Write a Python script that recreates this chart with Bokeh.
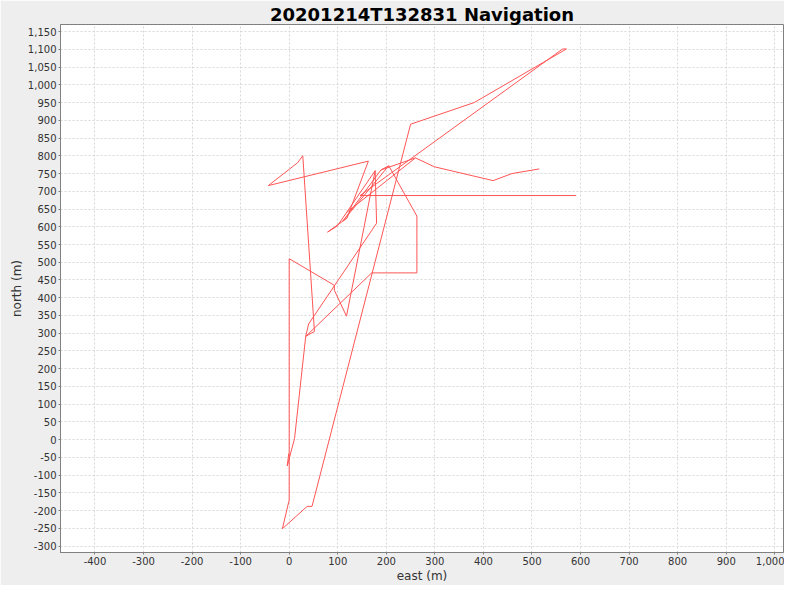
import math
from bokeh.plotting import figure
from bokeh.models import Range1d, FixedTicker, NumeralTickFormatter
from bokeh.embed import file_html
from bokeh.resources import INLINE

title_text = "20201214T132831 Navigation"
x_label = "east (m)"
y_label = "north (m)"
x_ticks = list(range(-400, 1001, 100))
y_ticks = list(range(-300, 1151, 50))

# main leg of the navigation track (east, north in metres)
main_east = [591, 146, 563, 571, 381, 250, 47, 37, -14, 0, 0, 93, 93, 118, 177, 180, 40, 34,
             170, 263, 263, 205, 189, 260, 299, 420, 459, 515]
main_north = [688, 688, 1101, 1101, 950, 889, -188, -188, -251, -170, 510, 435, 421, 348, 758, 610, 326, 291,
              470, 470, 630, 772, 760, 794, 769, 730, 750, 763]

# spike near the origin
spike_east = [-1, -4, 11, 34]
spike_north = [-39, -74, 3, 291]

# western zigzag
west_east = [34, 52, 28, 17, -43, 163, 119, 79, 99, 177]
west_north = [291, 305, 800, 780, 716, 785, 624, 585, 602, 758]

# fan legs
fan1_east = [189, 110, 205]
fan1_north = [760, 615, 772]
fan2_east = [260, 118]
fan2_north = [794, 640]

legs = [(main_east, main_north), (spike_east, spike_north), (west_east, west_north),
        (fan1_east, fan1_north), (fan2_east, fan2_north)]
xs, ys = [], []
for e, n in legs:
    xs += e + [math.nan]
    ys += n + [math.nan]

p = figure(frame_width=723, frame_height=528, x_range=Range1d(-471, 1018), y_range=Range1d(-318, 1170),
           output_backend="svg", toolbar_location=None,
           min_border_left=60, min_border_right=1, min_border_bottom=32, min_border_top=24,
           background_fill_color="white", border_fill_color="#eeeeee")

p.title.text = title_text
p.title.align = "center"
p.title.text_font = "DejaVu Sans"
p.title.text_font_size = "18px"
p.title.text_font_style = "bold"
p.title.text_color = "#000000"
p.title.standoff = 0

p.line(xs, ys, line_color="#ff5555", line_width=1)

for ax in (p.xaxis[0], p.yaxis[0]):
    ax.axis_line_color = "#808080"
    ax.major_tick_line_color = "#808080"
    ax.major_tick_out = 2
    ax.major_tick_in = 0
    ax.minor_tick_line_color = None
    ax.major_label_text_font = "DejaVu Sans"
    ax.major_label_text_font_size = "10px"
    ax.major_label_text_color = "#333333"
    ax.axis_label_text_font = "DejaVu Sans"
    ax.axis_label_text_font_size = "12px"
    ax.axis_label_text_font_style = "normal"
    ax.axis_label_text_color = "#333333"
    ax.formatter = NumeralTickFormatter(format="0,0")
    ax.major_label_standoff = 2
    ax.axis_label_standoff = 1

p.xaxis[0].ticker = FixedTicker(ticks=x_ticks)
p.yaxis[0].ticker = FixedTicker(ticks=y_ticks)
p.xaxis[0].axis_label = x_label
p.yaxis[0].axis_label = y_label

for g in (p.xgrid[0], p.ygrid[0]):
    g.grid_line_color = "#d8d8d8"
    g.grid_line_dash = "2 2"
    g.grid_line_width = 1
p.xgrid[0].ticker = FixedTicker(ticks=x_ticks)
p.ygrid[0].ticker = FixedTicker(ticks=y_ticks)

p.outline_line_color = "#808080"
p.outline_line_width = 1

open("out.html", "w").write(file_html(p, INLINE))
